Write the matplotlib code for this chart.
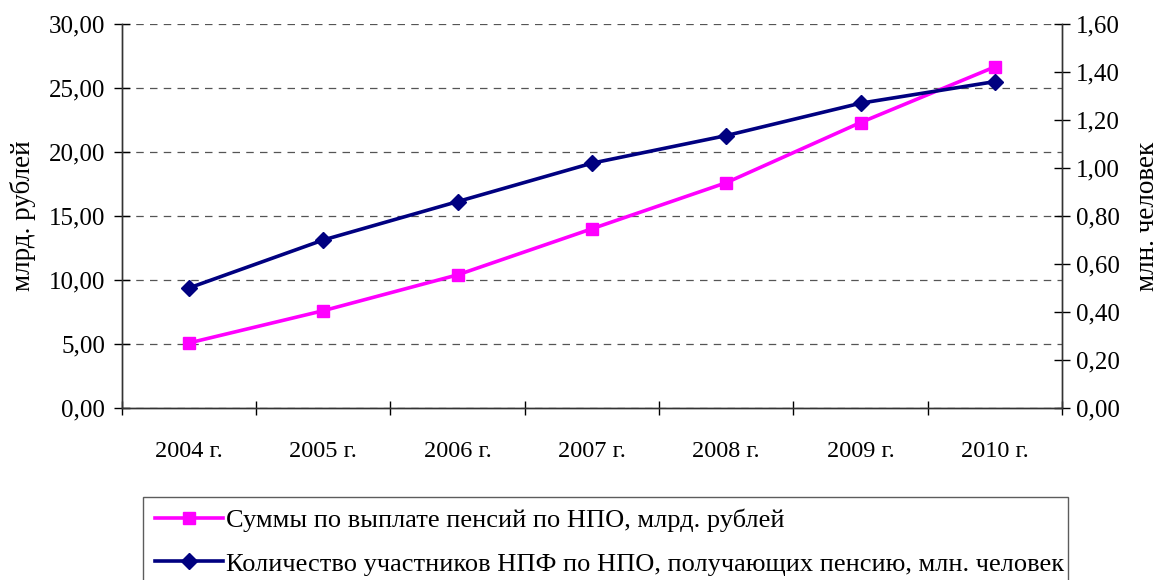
import numpy as np
import matplotlib.pyplot as plt
from matplotlib.ticker import FixedLocator, FuncFormatter

plt.rcParams['font.family'] = ['Liberation Serif', 'DejaVu Serif']

years = ['2004 г.', '2005 г.', '2006 г.', '2007 г.', '2008 г.', '2009 г.', '2010 г.']
summy = [5.08, 7.6, 10.4, 14.0, 17.6, 22.3, 26.65]          # млрд. рублей
uchastniki = [0.50, 0.70, 0.86, 1.02, 1.135, 1.27, 1.36]  # млн. человек

fig = plt.figure(figsize=(11.6, 5.8), dpi=100)
ax = fig.add_axes([0.105, 0.2966, 0.8105, 0.662])
ax2 = ax.twinx()

x = np.arange(len(years))
l1, = ax.plot(x, summy, color='#FF00FF', lw=2.6, marker='s', ms=9,
              label='Суммы по выплате пенсий по НПО, млрд. рублей')
l2, = ax2.plot(x, uchastniki, color='#000080', lw=2.6, marker='D', ms=8,
               label='Количество участников НПФ по НПО, получающих пенсию, млн. человек')

fmt = FuncFormatter(lambda v, p: f'{v:.2f}'.replace('.', ','))

ax.set_xlim(-0.5, len(years) - 0.5)
ax.set_ylim(0, 30)
ax.set_yticks(np.arange(0, 31, 5))
ax.yaxis.set_major_formatter(fmt)
ax.grid(axis='y', color='#555555', ls=(0, (6, 5)), lw=0.9)
ax.set_xticks(np.arange(-0.5, len(years), 1))
ax.set_xticklabels([])
ax.xaxis.set_minor_locator(FixedLocator(x))
ax.set_xticklabels(years, minor=True)
ax.tick_params(axis='x', which='minor', length=0, pad=24, labelsize=17.5)
ax.tick_params(axis='x', which='major', direction='inout', length=10, width=1)
ax.tick_params(axis='y', direction='inout', length=12, width=1, labelsize=18, pad=6)
ax.set_ylabel('млрд. рублей', fontsize=19.5, labelpad=9)

ax2.set_ylim(0, 1.6)
ax2.set_yticks(np.arange(0, 1.61, 0.2))
ax2.yaxis.set_major_formatter(fmt)
ax2.tick_params(axis='y', direction='inout', length=12, width=1, labelsize=18, pad=4)
ax2.set_ylabel('млн. человек', fontsize=19.5, labelpad=11)

for a in (ax, ax2):
    a.spines['top'].set_visible(False)
    for s in ('left', 'right', 'bottom'):
        a.spines[s].set_color('#333333')
        a.spines[s].set_linewidth(1)

leg = fig.legend(handles=[l1, l2], loc='upper left',
                 bbox_to_anchor=(143 / 1160, 1 - 497 / 580 - 0.01, 925 / 1160, 0.01),
                 mode='expand', fontsize=19, frameon=True, fancybox=False,
                 edgecolor='#333333', handlelength=2.6, handletextpad=0.1,
                 labelspacing=0.75, borderpad=0.45, borderaxespad=0)
leg.get_frame().set_linewidth(1)

fig.savefig('out.png', dpi=100)
